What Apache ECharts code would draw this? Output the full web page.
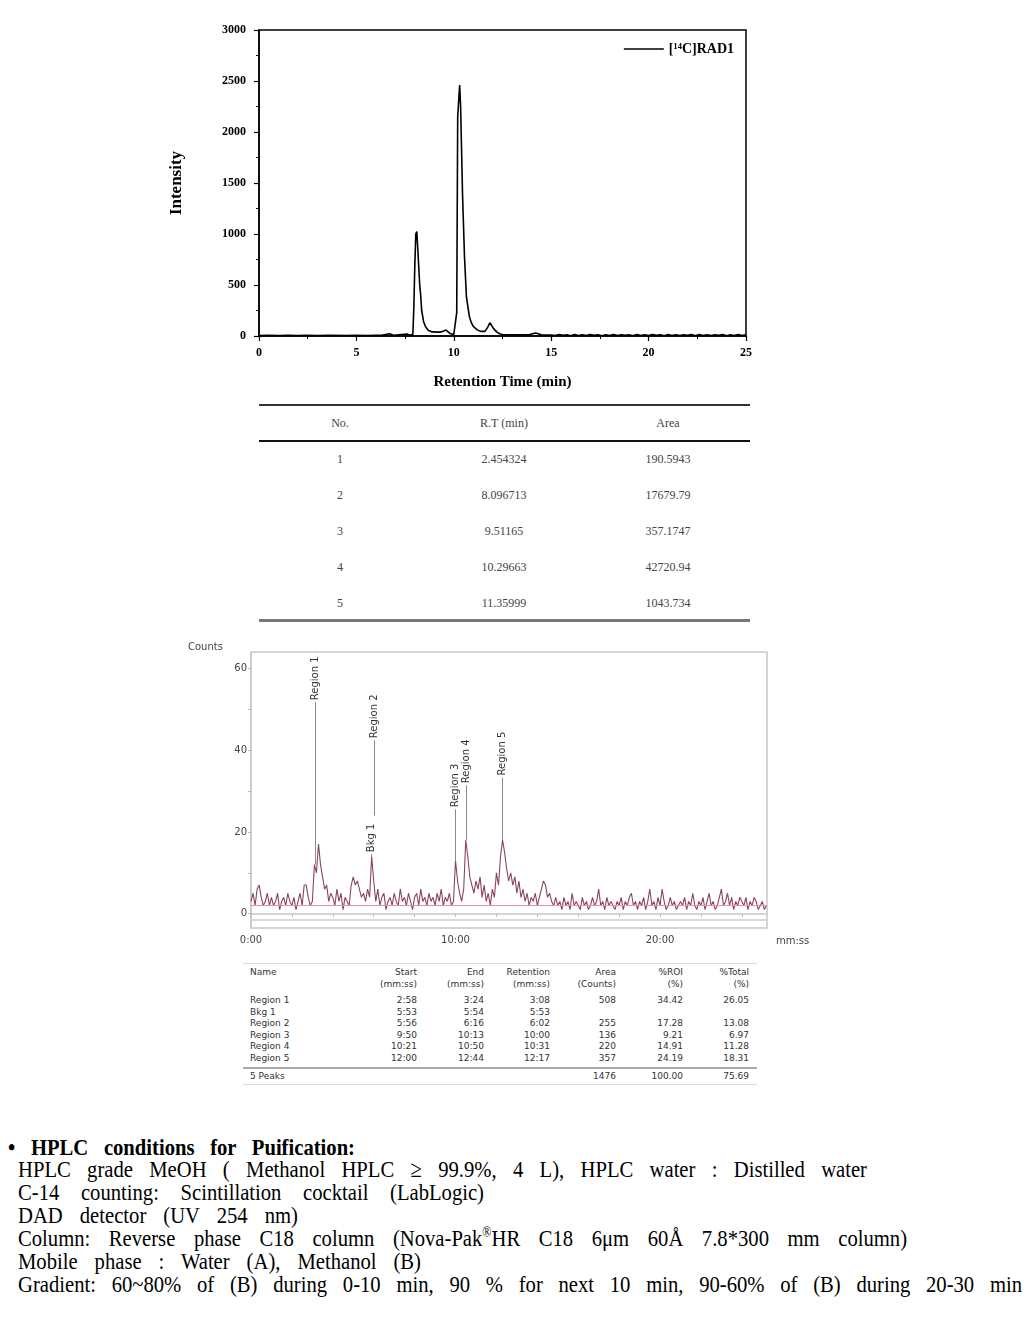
<!DOCTYPE html>
<html><head><meta charset="utf-8">
<script src="https://cdn.jsdelivr.net/npm/echarts@6/dist/echarts.min.js"></script>
<style>
html,body{margin:0;padding:0;background:#fff;}
#page{position:relative;width:1030px;height:1318px;overflow:hidden;}
.abs{position:absolute;white-space:nowrap;}
.t1{font-family:"Liberation Serif",serif;font-size:12px;color:#444;transform:translateX(-50%);line-height:14px;}
.t2{font-family:"DejaVu Sans",sans-serif;font-size:9px;color:#333;line-height:11px;}
.r{transform:translateX(-100%);text-align:right;}
.fit{font-family:"Liberation Serif",serif;font-size:24px;line-height:24px;color:#000;transform-origin:0 0;transform:scaleX(0.86);display:inline-block;}
.fit sup{font-size:14px;line-height:0;vertical-align:9px;}
</style></head>
<body><div id="page">
<div id="c1" class="abs" style="left:0;top:0;width:1030px;height:400px;"></div>
<div id="tab1"></div>
<div id="c2" class="abs" style="left:0;top:630px;width:1030px;height:330px;"></div>
<div id="tab2"></div>
<div id="notes"></div>
</div>
<script>
// ---------- Top chromatogram data (retention time min, intensity) ----------
const topTimes = [0,0.5,1,1.5,2,2.4,2.45,2.5,3,3.6,3.65,3.7,4.5,4.95,5.0,5.05,5.5,6.0,6.3,6.35,6.7,6.75,6.9,6.95,7.6,7.65,7.75,7.8,7.9,
 7.95,8.0,8.05,8.1,8.15,8.2,8.25,8.3,8.35,8.45,8.55,8.7,8.9,9.2,9.35,9.45,9.6,9.7,9.8,9.9,10.0,10.1,
 10.15,10.2,10.25,10.3,10.35,10.4,10.45,10.5,10.55,10.6,10.65,10.7,10.8,10.9,11.0,11.2,11.4,11.6,11.75,11.85,11.95,12.05,12.2,12.35,12.5,12.8,13.5,13.9,13.95,14.2,14.3,14.5,
 15.0,15.2,15.4,15.6,15.8,16.0,16.2,16.4,16.6,16.8,17.0,17.2,17.4,17.6,17.8,18.0,18.2,18.4,18.6,18.8,19.0,19.2,19.4,19.6,19.8,20.0,
 20.2,20.4,20.6,20.8,21.0,21.2,21.4,21.6,21.8,22.0,22.2,22.4,22.6,22.8,23.0,23.2,23.4,23.6,23.8,24.0,24.2,24.4,24.6,24.8,25.0];
const topIntensity = [5,6,5,6,5,6,18,6,5,6,14,6,5,6,16,6,5,6,6,22,22,6,8,20,20,8,8,18,18,
 290,700,1000,1025,860,850,500,400,250,140,90,55,40,38,40,58,58,40,25,40,15,12,
 230,2150,2150,2460,2250,2250,1380,1380,770,770,380,380,190,130,95,60,45,45,90,130,100,70,40,22,15,12,12,14,30,30,15,12,
 10,4,14,6,13,3,15,5,12,4,14,6,13,3,12,5,15,4,13,6,12,3,14,5,13,4,
 15,6,12,3,14,5,13,4,12,6,15,3,14,5,12,4,13,6,15,3,12,5,14,4,13];
const topSeriesName = "[¹⁴C]RAD1";

// ---------- Radio-HPLC (Counts vs mm:ss), 0.1 min bins ----------
const binStep = 0.1;
const counts = [
 3,5,2,6,7,4,2,3,5,2,
 4,2,3,5,1,3,4,2,5,3,
 2,4,1,3,5,2,7,7,4,2,
 3,12,10,17,12,9,6,7,3,5,
 4,2,6,3,5,1,4,3,2,7,
 9,7,8,6,4,5,3,6,4,14,
 8,3,6,2,4,5,1,3,4,2,
 5,3,2,6,3,4,2,5,3,1,
 4,5,2,6,3,4,2,5,3,4,
 2,5,3,6,2,4,3,5,2,3,
 13,8,5,3,6,18,14,9,7,5,
 8,6,9,4,7,3,5,2,6,4,
 10,7,14,18,15,11,8,10,7,9,
 5,8,4,6,3,5,2,4,3,5,
 2,4,6,8,7,4,5,3,2,4,
 2,3,1,4,2,3,1,5,2,3,
 2,1,4,2,3,1,2,4,2,3,
 6,2,3,1,4,2,3,2,1,3,
 2,4,1,3,2,4,5,2,3,1,
 3,2,4,1,3,6,2,3,1,4,
 2,6,3,1,2,4,2,3,1,2,
 3,2,4,1,3,2,5,2,1,3,
 2,4,1,3,5,2,3,1,2,4,
 6,2,3,5,2,4,1,3,2,4,
 3,2,4,1,3,2,4,3,1,2,
 3,1,2];
const peakNames = ["Region 1","Bkg 1","Region 2","Region 3","Region 4","Region 5"];
const peakTimes = [3.13,5.88,6.03,10.0,10.52,12.28];
const peakFrom  = [12,14,24,13,18,18];
const peakLabelTop = [63.4,22.5,54.1,37.2,43.1,45.0];
const bottomYLabels = [0,20,40,60];
const bottomXLabels = [0,10,20];
const roiBaseline = 2;

// ---------- Tables ----------
const t1Head = ["No.","R.T (min)","Area"];
const t1No = ["1","2","3","4","5"];
const t1RT = ["2.454324","8.096713","9.51165","10.29663","11.35999"];
const t1Area = ["190.5943","17679.79","357.1747","42720.94","1043.734"];

const t2Head1 = ["Name","Start","End","Retention","Area","%ROI","%Total"];
const t2Head2 = ["","(mm:ss)","(mm:ss)","(mm:ss)","(Counts)","(%)","(%)"];
const t2Names = ["Region 1","Bkg 1","Region 2","Region 3","Region 4","Region 5"];
const t2Start = ["2:58","5:53","5:56","9:50","10:21","12:00"];
const t2End   = ["3:24","5:54","6:16","10:13","10:50","12:44"];
const t2Ret   = ["3:08","5:53","6:02","10:00","10:31","12:17"];
const t2Area  = ["508","","255","136","220","357"];
const t2ROI   = ["34.42","","17.28","9.21","14.91","24.19"];
const t2Tot   = ["26.05","","13.08","6.97","11.28","18.31"];
const t2Sum   = ["5 Peaks","","","","1476","100.00","75.69"];

// ---------- Notes ----------
const noteHead = "• HPLC conditions for Puification:";
const noteLines = [
 "HPLC grade MeOH ( Methanol HPLC ≥ 99.9%, 4 L), HPLC water : Distilled water",
 "C-14 counting: Scintillation cocktail (LabLogic)",
 "DAD detector (UV 254 nm)",
 "Column: Reverse phase C18 column (Nova-Pak<sup>®</sup>HR C18 6μm 60Å 7.8*300 mm column)",
 "Mobile phase : Water (A), Methanol (B)",
 "Gradient: 60~80% of (B) during 0-10 min, 90 % for next 10 min, 90-60% of (B) during 20-30 min"
];

// ================= Chart 1 =================
const c1 = echarts.init(document.getElementById('c1'));
const serif = '"Liberation Serif","DejaVu Serif",serif';
c1.setOption({
  animation:false,
  grid:{left:259,top:30,width:487,height:306,show:true,borderColor:'#000',borderWidth:1.5,backgroundColor:'#fff'},
  legend:{right:291,top:37,icon:'rect',itemWidth:40,itemHeight:1.5,itemGap:3,
    textStyle:{fontFamily:serif,fontWeight:'bold',fontSize:14,color:'#000'},data:[topSeriesName]},
  xAxis:{type:'value',min:0,max:25,interval:5,
    name:'Retention Time (min)',nameLocation:'middle',nameGap:39,
    nameTextStyle:{fontFamily:serif,fontWeight:'bold',fontSize:15,color:'#000'},
    axisLine:{lineStyle:{color:'#000',width:1.5}},
    axisTick:{show:true,inside:false,length:5,lineStyle:{color:'#000',width:1.2}},
    minorTick:{show:true,splitNumber:2,length:3,lineStyle:{color:'#000'}},
    splitLine:{show:false},
    axisLabel:{fontFamily:serif,fontWeight:'bold',fontSize:12,color:'#000',margin:11}},
  yAxis:{type:'value',min:0,max:3000,interval:500,
    name:'Intensity',nameLocation:'middle',nameGap:74,nameRotate:90,
    nameTextStyle:{fontFamily:serif,fontWeight:'bold',fontSize:17,color:'#000'},
    axisLine:{show:true,lineStyle:{color:'#000',width:1.5}},
    axisTick:{show:true,inside:false,length:5,lineStyle:{color:'#000',width:1.2}},
    minorTick:{show:true,splitNumber:2,length:3,lineStyle:{color:'#000'}},
    splitLine:{show:false},
    axisLabel:{formatter:v=>String(v),fontFamily:serif,fontWeight:'bold',fontSize:12,color:'#000',margin:13}},
  series:[{name:topSeriesName,type:'line',symbol:'none',
    lineStyle:{color:'#000',width:1.6},itemStyle:{color:'#000'},
    data:topTimes.map((t,i)=>[t,topIntensity[i]])}]
});

// ================= Chart 2 =================
const c2 = echarts.init(document.getElementById('c2'));
const sans = '"DejaVu Sans",sans-serif';
const mmss = v => { const m=Math.floor(v+1e-9); const s=Math.round((v-m)*60); return m+':'+String(s).padStart(2,'0'); };
const leaderLines = peakTimes.map((t,i)=>[
  {coord:[t,peakFrom[i]]},
  {coord:[t,peakLabelTop[i]],label:{show:true,position:'insideEnd',distance:0,formatter:peakNames[i],
    fontFamily:sans,fontSize:10,color:'#333',backgroundColor:'#fff',padding:[1,2]}}
]);
c2.setOption({
  animation:false,
  title:[
    {text:'Counts',left:183,top:7,textStyle:{fontFamily:sans,fontSize:10,fontWeight:'normal',color:'#444'}},
    {text:'mm:ss',left:771,top:301,textStyle:{fontFamily:sans,fontSize:10,fontWeight:'normal',color:'#444'}}
  ],
  grid:{left:251,top:22,width:516,height:276,show:true,borderColor:'#c8c8c8',borderWidth:1.5,backgroundColor:'#fff'},
  xAxis:{type:'value',min:0,max:25.23,
    axisLine:{lineStyle:{color:'#c8c8c8',width:1.5}},
    axisTick:{show:true,length:3,customValues:[0,2,4,6,8,10,12,14,16,18,20,22,24],lineStyle:{color:'#bbb'}},
    splitLine:{show:false},
    axisLabel:{customValues:bottomXLabels,formatter:mmss,fontFamily:sans,fontSize:10,color:'#444',margin:7}},
  yAxis:{type:'value',min:-3.5,max:64,
    axisLine:{show:true,lineStyle:{color:'#c8c8c8',width:1.5}},
    axisTick:{show:true,length:3,customValues:[0,10,20,30,40,50,60],lineStyle:{color:'#bbb'}},
    splitLine:{show:false},
    axisLabel:{customValues:bottomYLabels,fontFamily:sans,fontSize:10,color:'#444',margin:4}},
  series:[
    {type:'line',symbol:'none',z:3,
     lineStyle:{color:'#8a4659',width:1.1},
     data:counts.map((c,i)=>[+(i*binStep).toFixed(2),c]),
     markLine:{silent:true,symbol:'none',animation:false,
       data:[
         {yAxis:roiBaseline,lineStyle:{color:'#f08cb4',width:1,type:'solid'},label:{show:false}},
         {yAxis:-1.6,lineStyle:{color:'#cfcfcf',width:1.5,type:'solid'},label:{show:false}}
       ]}},
    {type:'line',symbol:'none',data:[],z:4,
     markLine:{silent:true,symbol:'none',animation:false,
       lineStyle:{color:'#8a8a8a',width:1,type:'solid'},
       data:leaderLines}}
  ]
});

// ================= Table 1 (HTML) =================
(function(){
  const box=document.getElementById('tab1');
  let h='';
  h+='<div class="abs" style="left:259px;top:404px;width:491px;height:2px;background:#333"></div>';
  h+='<div class="abs" style="left:259px;top:440px;width:491px;height:2px;background:#111"></div>';
  h+='<div class="abs" style="left:259px;top:619px;width:491px;height:3px;background:#777"></div>';
  const cx=[340,504,668];
  t1Head.forEach((s,j)=>{h+=`<div class="abs t1" style="left:${cx[j]}px;top:416px">${s}</div>`;});
  t1No.forEach((s,i)=>{
    const y=459+36*i-7;
    h+=`<div class="abs t1" style="left:${cx[0]}px;top:${y}px">${s}</div>`;
    h+=`<div class="abs t1" style="left:${cx[1]}px;top:${y}px">${t1RT[i]}</div>`;
    h+=`<div class="abs t1" style="left:${cx[2]}px;top:${y}px">${t1Area[i]}</div>`;
  });
  box.innerHTML=h;
})();

// ================= Table 2 (HTML) =================
(function(){
  const box=document.getElementById('tab2');
  let h='';
  h+='<div class="abs" style="left:243px;top:963px;width:514px;height:1px;background:#d8d8d8"></div>';
  h+='<div class="abs" style="left:243px;top:1067px;width:514px;height:2px;background:#aaa"></div>';
  h+='<div class="abs" style="left:243px;top:1084px;width:514px;height:1px;background:#d8d8d8"></div>';
  const rx=[null,417,484,550,616,683,749];
  const cell=(s,j,y)=>{
    if(!s) return '';
    if(j===0) return `<div class="abs t2" style="left:250px;top:${y}px">${s}</div>`;
    return `<div class="abs t2 r" style="left:${rx[j]}px;top:${y}px">${s}</div>`;
  };
  t2Head1.forEach((s,j)=>{h+=cell(s,j,967);});
  t2Head2.forEach((s,j)=>{h+=cell(s,j,979);});
  t2Names.forEach((n,i)=>{
    const y=995+11.6*i;
    [n,t2Start[i],t2End[i],t2Ret[i],t2Area[i],t2ROI[i],t2Tot[i]].forEach((s,j)=>{h+=cell(s,j,y);});
  });
  t2Sum.forEach((s,j)=>{h+=cell(s,j,1071);});
  box.innerHTML=h;
})();

// ================= Notes (HTML) =================
(function(){
  const box=document.getElementById('notes');
  let h=`<div class="abs fit" data-w="347" style="left:8px;top:1135px;font-weight:bold">${noteHead}</div>`;
  const widths=[849,466,280,889,403,1004];
  noteLines.forEach((s,i)=>{
    h+=`<div class="abs fit" data-w="${widths[i]}" style="left:18px;top:${1157+23*i}px">${s}</div>`;
  });
  box.innerHTML=h;
  const sx=0.86;
  box.querySelectorAll('.fit').forEach(el=>{
    el.style.wordSpacing='0px';
    const nat=el.getBoundingClientRect().width;
    const n=(el.textContent.match(/ /g)||[]).length;
    if(n>0) el.style.wordSpacing=((+el.dataset.w-nat)/(n*sx))+'px';
  });
})();
</script>
</body></html>
